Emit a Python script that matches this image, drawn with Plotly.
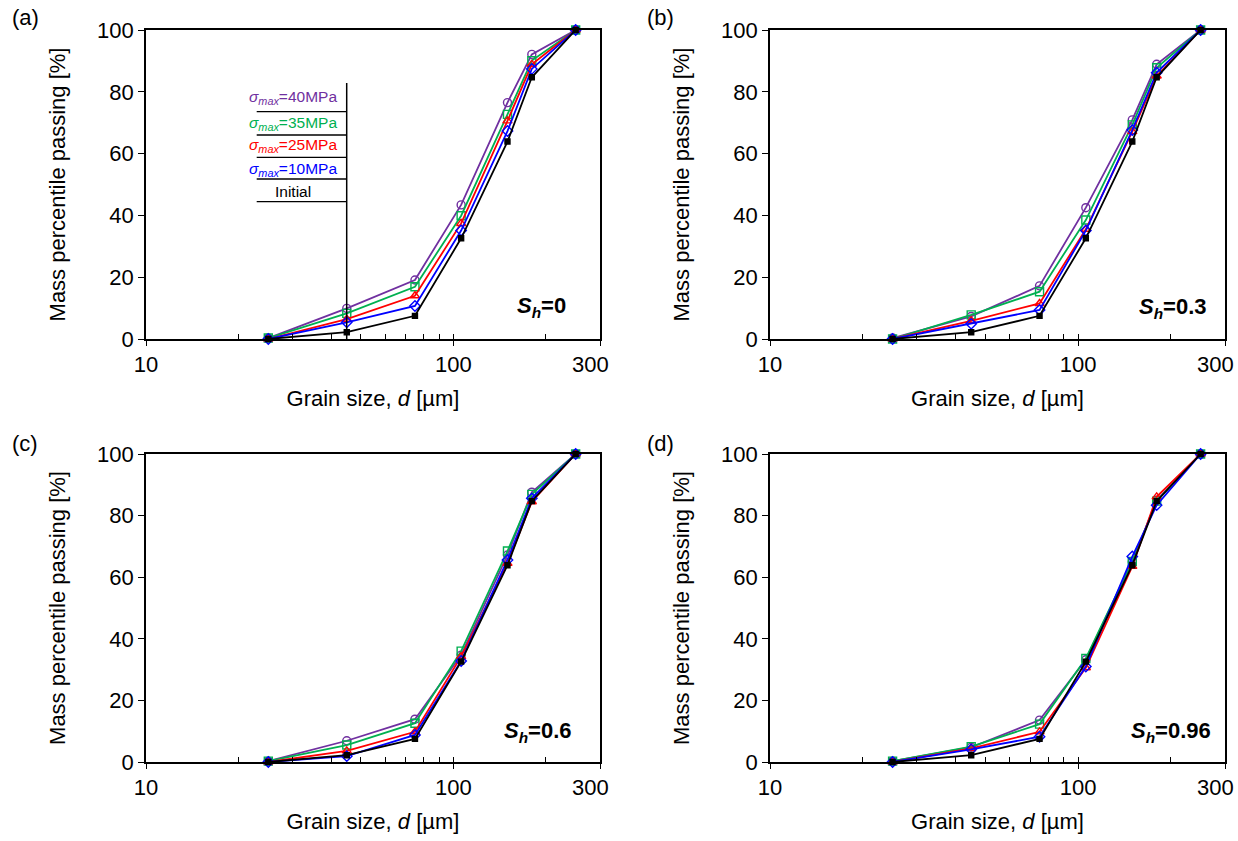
import plotly.graph_objects as go

W, H = 1238, 841

# ---------------- data ----------------
grain_size = [25, 45, 75, 106, 150, 180, 250]

initial = [0, 2.2, 7.5, 32.6, 63.9, 84.7, 100]

a_10 = [0, 5.4, 10.7, 35.1, 67.3, 87.4, 100]
a_25 = [0, 6.4, 14.0, 37.4, 70.6, 88.9, 100]
a_35 = [0.3, 8.3, 16.9, 39.9, 72.7, 90.1, 100]
a_40 = [0.3, 9.9, 19.1, 43.4, 76.5, 92.1, 100]

b_10 = [0, 4.9, 9.4, 35.1, 67.6, 86.2, 100]
b_25 = [0, 5.9, 11.5, 35.5, 67.1, 85.1, 100]
b_35 = [0, 7.8, 15.3, 38.5, 69.3, 87.8, 100]
b_40 = [0.3, 7.3, 17.2, 42.5, 70.9, 88.9, 100]

c_10 = [0, 1.9, 8.8, 32.8, 65.6, 85.6, 100]
c_25 = [0, 3.6, 9.8, 34.2, 64.5, 84.5, 100]
c_35 = [0.3, 5.5, 12.6, 36.0, 68.5, 86.9, 100]
c_40 = [0.3, 6.9, 13.9, 34.7, 67.2, 87.6, 100]

d_10 = [0, 4.1, 8.2, 31.0, 66.7, 83.4, 100]
d_25 = [0, 4.4, 9.8, 30.6, 63.5, 86.1, 100]
d_35 = [0.3, 5.0, 12.3, 33.6, 65.1, 84.7, 100]
d_40 = [0.3, 4.8, 13.6, 33.2, 65.0, 85.0, 100]

panel_labels = ["(a)", "(b)", "(c)", "(d)"]
sh_labels = ["0", "0.3", "0.6", "0.96"]
series_names = ["σmax=10MPa", "σmax=25MPa", "σmax=35MPa", "σmax=40MPa", "Initial"]
x_tickvals = [10, 100, 300]
x_ticktext = ["10", "100", ""]
x_end_label = "300"
x_minor_vals = [20, 30, 40, 50, 60, 70, 80, 90, 100, 200]
y_tickvals = [0, 20, 40, 60, 80, 100]

panels = [
    [a_10, a_25, a_35, a_40, initial],
    [b_10, b_25, b_35, b_40, initial],
    [c_10, c_25, c_35, c_40, initial],
    [d_10, d_25, d_35, d_40, initial],
]

# ---------------- styles ----------------
colors = ["#0000FF", "#FF0000", "#00B050", "#7030A0", "#000000"]
symbols = ["diamond-open", "triangle-up-open", "square-open", "circle-open", "square"]
msizes = [8, 8, 8, 8, 5]
draw_order = [3, 2, 1, 0, 4]

FONT = "Arial, 'Liberation Sans', sans-serif"
FS = 22


def px(x):
    return x / W


def py(y):
    return 1 - y / H


# panel boxes in pixels: (left, right, top, bottom)
boxes = [
    (146, 600, 30, 339),
    (770, 1225, 30, 339),
    (146, 600, 454, 762),
    (770, 1225, 454, 762),
]

fig = go.Figure()
annotations = []

for i, (series, box) in enumerate(zip(panels, boxes)):
    xa = "x" if i == 0 else f"x{i+1}"
    ya = "y" if i == 0 else f"y{i+1}"
    for k in draw_order:
        fig.add_trace(go.Scatter(
            x=grain_size, y=series[k], mode="lines+markers",
            name=series_names[k], showlegend=False, cliponaxis=False,
            line=dict(color=colors[k], width=1.8),
            marker=dict(symbol=symbols[k], size=msizes[k], color=colors[k],
                        line=dict(color=colors[k], width=1.4)),
            xaxis=xa, yaxis=ya,
        ))
    l, r, t, b = box
    xkey = "xaxis" if i == 0 else f"xaxis{i+1}"
    ykey = "yaxis" if i == 0 else f"yaxis{i+1}"
    fig.layout[xkey] = dict(
        domain=[px(l), px(r)], anchor=ya, type="log", automargin=False,
        range=[1, 2.4771], tickmode="array", tickvals=x_tickvals,
        ticktext=x_ticktext,
        ticks="outside", ticklen=5, tickwidth=1.3, tickcolor="black",
        minor=dict(tickmode="array", tickvals=x_minor_vals, ticks="inside",
                   ticklen=5, tickwidth=1.3, tickcolor="black", showgrid=False),
        showline=True, linecolor="black", linewidth=1.6, mirror=True,
        showgrid=False, zeroline=False,
        tickfont=dict(family=FONT, size=FS, color="black"),
        title=dict(text="Grain size, <i>d</i> [µm]", standoff=14,
                   font=dict(family=FONT, size=FS, color="black")),
    )
    fig.layout[ykey] = dict(
        domain=[py(b), py(t)], anchor=xa, range=[0, 100], automargin=False,
        tickmode="array", tickvals=y_tickvals,
        ticks="outside", ticklen=6, tickwidth=1.3, tickcolor="black",
        showline=True, linecolor="black", linewidth=1.6, mirror=True,
        showgrid=False, zeroline=False,
        tickfont=dict(family=FONT, size=FS, color="black"),
        title=dict(text="Mass percentile passing [%]", standoff=25,
                   font=dict(family=FONT, size=FS, color="black")),
    )
    # end label of the x axis, drawn slightly inside like the original
    annotations.append(dict(x=px(r - 10), y=py(b + 11), xref="paper", yref="paper",
                            text=x_end_label, showarrow=False,
                            xanchor="center", yanchor="top",
                            font=dict(family=FONT, size=FS, color="black")))

# panel letters
letter_pos = [(10, 18), (645, 18), (10, 443), (645, 443)]
for lab, (x, y) in zip(panel_labels, letter_pos):
    annotations.append(dict(x=px(x), y=py(y), xref="paper", yref="paper",
                            text=lab, showarrow=False, xanchor="left", yanchor="middle",
                            font=dict(family=FONT, size=FS, color="black")))
# S_h labels
sh_pos = [(568, 307), (1209, 308), (574, 732), (1213, 732)]
for lab, (x, y) in zip(sh_labels, sh_pos):
    annotations.append(dict(x=px(x), y=py(y), xref="paper", yref="paper",
                            text=f"<b><i>S</i></b><sub><b><i>h</i></b></sub><b>={lab}</b>",
                            showarrow=False, xanchor="right", yanchor="middle",
                            font=dict(family=FONT, size=FS, color="black")))

# legend-like table in panel (a)
leg_items = [
    ("<i>σ</i><sub><i>max</i></sub>=40MPa", "#7030A0", 98),
    ("<i>σ</i><sub><i>max</i></sub>=35MPa", "#00B050", 123),
    ("<i>σ</i><sub><i>max</i></sub>=25MPa", "#FF0000", 146),
    ("<i>σ</i><sub><i>max</i></sub>=10MPa", "#0000FF", 169),
    ("Initial", "#000000", 191),
]
for txt, col, y in leg_items:
    annotations.append(dict(x=px(293), y=py(y), xref="paper", yref="paper",
                            text=txt, showarrow=False, xanchor="center", yanchor="middle",
                            font=dict(family=FONT, size=15.5, color=col)))

shapes = [dict(type="line", xref="paper", yref="paper",
               x0=px(346.7), x1=px(346.7), y0=py(83), y1=py(339),
               line=dict(color="black", width=1.5))]
for yl in [111.7, 135, 157.3, 179, 201.7]:
    shapes.append(dict(type="line", xref="paper", yref="paper",
                       x0=px(256.7), x1=px(346.7), y0=py(yl), y1=py(yl),
                       line=dict(color="black", width=1.3)))

fig.update_layout(
    width=W, height=H, margin=dict(l=0, r=0, t=0, b=0),
    paper_bgcolor="white", plot_bgcolor="white",
    annotations=annotations, shapes=shapes, showlegend=False,
    font=dict(family=FONT, color="black"),
)

fig.write_html("out.html")
